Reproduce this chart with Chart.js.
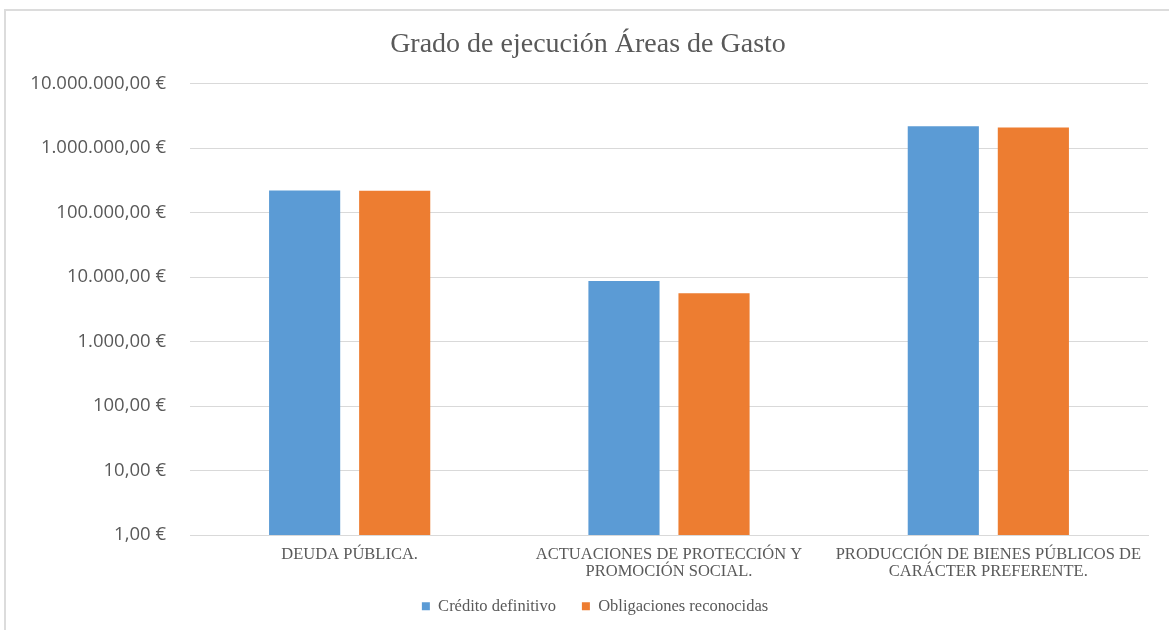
<!DOCTYPE html>
<html>
<head>
<meta charset="utf-8">
<script src="https://cdn.jsdelivr.net/npm/chart.js@4/dist/chart.umd.min.js"></script>
<style>
  body { margin: 0; background: #fff; }
  #frame { position: absolute; left: 4px; top: 9px; width: 1165px; height: 621px;
           border-top: 2px solid #dcdcdc; border-left: 2px solid #dcdcdc; }
  #wrap { position: absolute; left: 0; top: 0; width: 1169px; height: 630px; }
</style>
</head>
<body>
<div id="frame"></div>
<div id="wrap"><canvas id="grado"></canvas></div>
<script>
const areas = [
  ['DEUDA PÚBLICA.'],
  ['ACTUACIONES DE PROTECCIÓN Y', 'PROMOCIÓN SOCIAL.'],
  ['PRODUCCIÓN DE BIENES PÚBLICOS DE', 'CARÁCTER PREFERENTE.']
];
const creditoDefinitivo = [219000, 8700, 2190000];
const obligacionesReconocidas = [218000, 5600, 2080000];
const yTicks = [1, 10, 100, 1000, 10000, 100000, 1000000, 10000000];

function euros(v)
{
    let s = Math.round(v).toString().replace(/\B(?=(\d{3})+(?!\d))/g, '.');
    return s + ',00 €';
}

// title and legend sit a bit right of the canvas centre in the original,
// and the legend items are spaced wider than the legend is tall
const shiftBoxes = {
    id: 'shiftBoxes',
    afterLayout(chart) {
        chart.titleBlock.left += 14;
        chart.titleBlock.right += 14;
        const lg = chart.legend;
        lg.options.labels.padding = 26;
        lg.top -= 18;
        lg.left += 3;
        lg.right += 3;
    }
};

const ctx = document.getElementById('grado');

new Chart(ctx, {
    type: 'bar',
    data: {
        labels: areas,
        datasets: [{
            label: 'Crédito definitivo',
            data: creditoDefinitivo,
            backgroundColor: '#5B9BD5'
        }, {
            label: 'Obligaciones reconocidas',
            data: obligacionesReconocidas,
            backgroundColor: '#ED7D31'
        }]
    },
    plugins: [shiftBoxes],
    options: {
        responsive: true,
        maintainAspectRatio: false,
        animation: false,
        layout: { padding: { top: 13, right: 21, bottom: 5.5, left: 0 } },
        datasets: {
            bar: { categoryPercentage: 0.564, barPercentage: 0.79 }
        },
        plugins: {
            title: {
                display: true,
                text: 'Grado de ejecución Áreas de Gasto',
                color: '#595959',
                font: { family: 'Liberation Serif', size: 28, weight: 'normal' },
                padding: { top: 15, bottom: 22 }
            },
            legend: {
                position: 'bottom',
                labels: {
                    color: '#595959',
                    font: { family: 'Liberation Serif', size: 16.5 },
                    boxWidth: 8,
                    boxHeight: 8,
                    padding: 8
                }
            },
            tooltip: { enabled: false }
        },
        scales: {
            x: {
                grid: { display: false, drawTicks: false },
                border: { color: '#d9d9d9' },
                ticks: {
                    color: '#595959',
                    font: { family: 'Liberation Serif', size: 16.5, lineHeight: 1.05 },
                    padding: 11,
                    maxRotation: 0
                },
                afterFit: scale => { scale.height = 55; }
            },
            y: {
                type: 'logarithmic',
                min: 1,
                max: 10000000,
                afterBuildTicks: scale => { scale.ticks = yTicks.map(v => ({ value: v })); },
                afterFit: scale => { scale.width = 190; },
                grid: { color: '#d9d9d9', drawTicks: false },
                border: { display: false },
                ticks: {
                    color: '#595959',
                    font: { family: 'Open Sans', size: 18.5 },
                    padding: 24,
                    callback: v => euros(v)
                }
            }
        }
    }
});
</script>
</body>
</html>
